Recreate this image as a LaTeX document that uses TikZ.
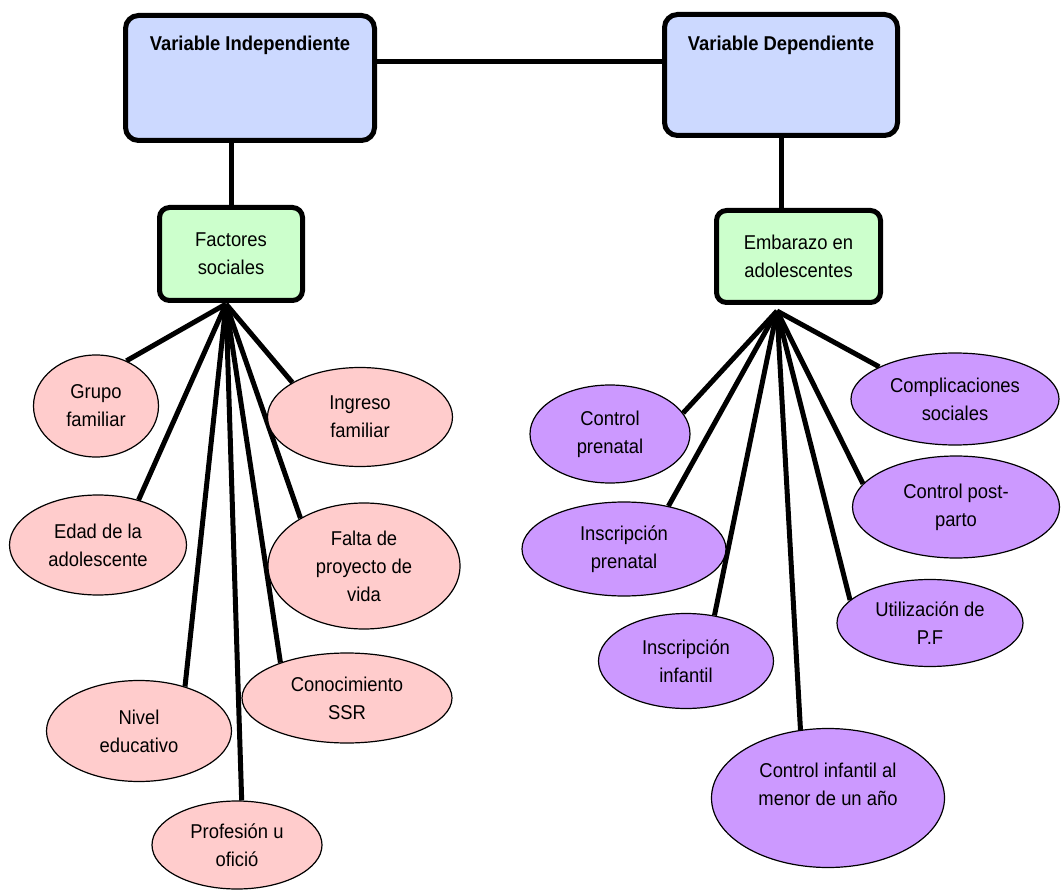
\documentclass[tikz,border=0pt]{standalone}
\usepackage{fontspec}
\setmainfont{Liberation Sans}[FakeStretch=0.92]
\usetikzlibrary{shapes.geometric,backgrounds}
\definecolor{boxblue}{RGB}{204,217,255}
\definecolor{boxgreen}{RGB}{204,255,204}
\definecolor{elpink}{RGB}{255,204,204}
\definecolor{elpurple}{RGB}{204,153,255}
\newcommand\diafont{\fontsize{20}{28}\selectfont}
\begin{document}
\begin{tikzpicture}[x=1pt,y=-1pt,
  varbox/.style={draw=black, line width=5pt, fill=boxblue, rounded corners=13pt, inner sep=0pt},
  factbox/.style={draw=black, line width=5pt, fill=boxgreen, rounded corners=10pt, inner sep=0pt, align=center, font=\diafont},
  pel/.style={ellipse, draw=black, line width=1.2pt, fill=elpink, inner sep=0pt, align=center, font=\diafont},
  vel/.style={ellipse, draw=black, line width=1.2pt, fill=elpurple, inner sep=0pt, align=center, font=\diafont},
  link/.style={draw=black, line width=5pt}]
\useasboundingbox (0,0) rectangle (1061,896);

% top boxes
\node[varbox, minimum width=249pt, minimum height=125pt,
  label={[yshift=33pt, font=\diafont\bfseries]center:Variable Independiente}] (vi) at (250,78) {};
\node[varbox, minimum width=233pt, minimum height=121pt,
  label={[yshift=30pt, font=\diafont\bfseries]center:Variable Dependiente}] (vd) at (781,75) {};

% green boxes
\node[factbox, minimum width=143pt, minimum height=93pt] (fs) at (231,254) {Factores\\sociales};
\node[factbox, minimum width=164pt, minimum height=92pt] (emb) at (798.5,256.5) {Embarazo en\\adolescentes};

% left ellipses
\node[pel, minimum width=125pt, minimum height=102pt] (grupo) at (96,406) {Grupo\\familiar};
\node[pel, minimum width=185pt, minimum height=99pt] (ingreso) at (360,417) {Ingreso\\familiar};
\node[pel, minimum width=177pt, minimum height=100pt] (edad) at (98,545) {Edad de la\\adolescente};
\node[pel, minimum width=192pt, minimum height=126pt] (falta) at (364,566) {Falta de\\proyecto de\\vida};
\node[pel, minimum width=210pt, minimum height=90pt] (conoc) at (347,698) {Conocimiento\\SSR};
\node[pel, minimum width=185pt, minimum height=101pt] (nivel) at (139,731) {Nivel\\educativo};
\node[pel, minimum width=170pt, minimum height=88pt] (prof) at (237,845) {Profesión u\\ofició};

% right ellipses
\node[vel, minimum width=160pt, minimum height=98pt] (cpre) at (610,434) {Control\\prenatal};
\node[vel, minimum width=204pt, minimum height=94pt] (ipre) at (624,549) {Inscripción\\prenatal};
\node[vel, minimum width=175pt, minimum height=95pt] (iinf) at (686,661) {Inscripción\\infantil};
\node[vel, minimum width=233pt, minimum height=139pt,
  label={[yshift=14pt, align=center, font=\diafont]center:Control infantil al\\menor de un año}] (cinf) at (828,798) {};
\node[vel, minimum width=186pt, minimum height=87pt] (util) at (930,623) {Utilización de\\P.F};
\node[vel, minimum width=207pt, minimum height=102pt] (cpost) at (956,507) {Control post-\\parto};
\node[vel, minimum width=208pt, minimum height=92pt] (compl) at (955,399) {Complicaciones\\sociales};

\coordinate (hubL) at (226,304);
\coordinate (hubR) at (777,311);

\begin{pgfonlayer}{background}
  \fill[white] (0,0) rectangle (1061,896);
  \draw[link] ([yshift=16pt]vi.east) -- ([yshift=13pt]vd.west);
  \draw[link] (fs.north |- vi.south) -- (fs.north);
  \draw[link] (vd.south) -- (vd.south |- emb.north);
  \draw[link] (hubL) -- (grupo.56);
  \draw[link] (hubL) -- (ingreso.153);
  \draw[link] (hubL) -- (edad.48);
  \draw[link] (hubL) -- (falta.143);
  \draw[link] (hubL) -- (conoc.152);
  \draw[link] (hubL) -- (nivel.44);
  \draw[link] (hubL) -- (prof.84);
  \draw[link] (hubR) -- (cpre.16);
  \draw[link] (hubR) -- (ipre.44);
  \draw[link] (hubR) -- (iinf.58);
  \draw[link] (hubR) -- (cinf.112);
  \draw[link] (hubR) -- (util.164);
  \draw[link] (hubR) -- (cpost.166);
  \draw[link] (hubR) -- (compl.157);
\end{pgfonlayer}
\end{tikzpicture}
\end{document}
